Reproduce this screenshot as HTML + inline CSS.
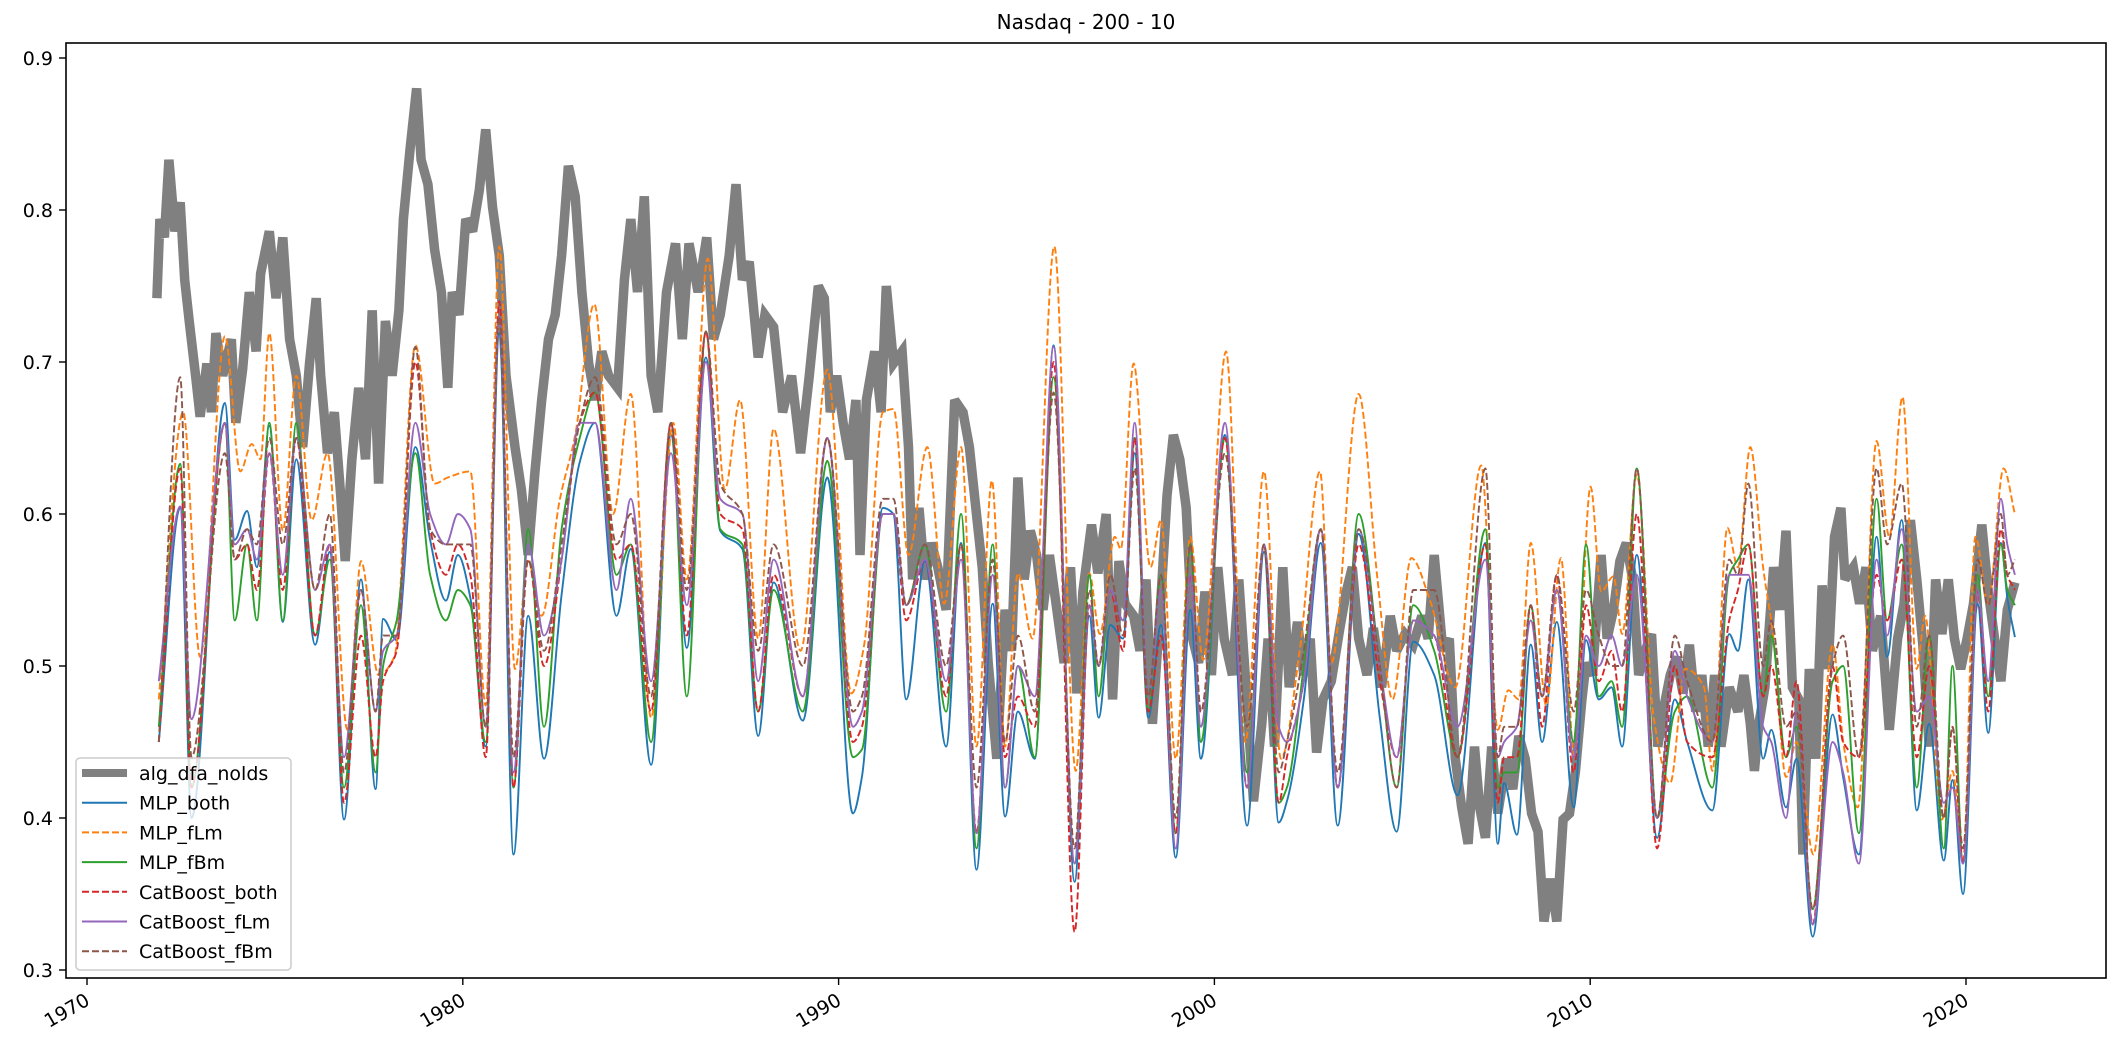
<!DOCTYPE html>
<html><head><meta charset="utf-8"><title>Nasdaq - 200 - 10</title>
<style>html,body{margin:0;padding:0;background:#fff}svg{display:block}text{font-family:"DejaVu Sans","Liberation Sans",sans-serif;fill:#000}</style>
</head><body>
<svg id="chart" width="2126" height="1046" viewBox="0 0 2126 1046" xmlns="http://www.w3.org/2000/svg">
<rect x="0" y="0" width="2126" height="1046" fill="#fff"/>
<text x="1086" y="29" font-size="20" text-anchor="middle">Nasdaq - 200 - 10</text>
<defs><clipPath id="clip"><rect x="66" y="43" width="2040" height="935"/></clipPath></defs>
<g id="series" clip-path="url(#clip)"></g>
<rect x="66" y="43" width="2040" height="935" fill="none" stroke="#000" stroke-width="1.6"/>
<g id="yaxis"></g>
<g id="xaxis"></g>
<g id="legend"></g>
</svg>
<script>
const xTickYears=[1970,1980,1990,2000,2010,2020];
const yTicks=[0.3,0.4,0.5,0.6,0.7,0.8,0.9];
const yTickLabels=["0.3","0.4","0.5","0.6","0.7","0.8","0.9"];
const seriesNames=["alg_dfa_nolds","MLP_both","MLP_fLm","MLP_fBm","CatBoost_both","CatBoost_fLm","CatBoost_fBm"];

const dfaYears=[1971.86,1971.94,1972.06,1972.18,1972.34,1972.48,1972.6,1972.72,1972.89,1973.01,1973.19,1973.31,1973.43,1973.61,1973.84,1973.96,1974.14,1974.32,1974.5,1974.62,1974.85,1975.03,1975.21,1975.39,1975.57,1975.74,1975.92,1976.1,1976.22,1976.4,1976.58,1976.75,1976.87,1977.05,1977.23,1977.41,1977.59,1977.76,1977.94,1978.12,1978.3,1978.42,1978.6,1978.77,1978.89,1979.07,1979.25,1979.43,1979.6,1979.72,1979.9,1980.08,1980.26,1980.44,1980.61,1980.79,1980.97,1981.15,1981.39,1981.56,1981.74,1981.92,1982.1,1982.28,1982.46,1982.63,1982.81,1982.99,1983.17,1983.35,1983.52,1983.7,1983.88,1984.12,1984.3,1984.47,1984.65,1984.83,1985.01,1985.19,1985.42,1985.66,1985.84,1986.02,1986.26,1986.49,1986.67,1986.85,1987.09,1987.27,1987.44,1987.62,1987.86,1988.04,1988.27,1988.51,1988.75,1988.99,1989.22,1989.46,1989.62,1989.78,1989.95,1990.12,1990.29,1990.46,1990.57,1990.74,1990.96,1991.13,1991.27,1991.46,1991.69,1991.86,1991.97,1992.14,1992.3,1992.47,1992.64,1992.86,1993.09,1993.31,1993.48,1993.65,1993.82,1993.98,1994.21,1994.43,1994.6,1994.77,1994.94,1995.1,1995.27,1995.44,1995.61,1995.83,1996.0,1996.17,1996.34,1996.5,1996.73,1996.9,1997.12,1997.29,1997.46,1997.62,1997.85,1998.02,1998.18,1998.35,1998.58,1998.74,1998.91,1999.08,1999.25,1999.42,1999.58,1999.75,1999.92,2000.09,2000.26,2000.48,2000.65,2000.82,2001.04,2001.26,2001.43,2001.6,2001.82,2001.99,2002.21,2002.38,2002.55,2002.72,2002.89,2003.11,2003.34,2003.51,2003.67,2003.84,2004.06,2004.23,2004.45,2004.68,2004.85,2005.07,2005.29,2005.52,2005.69,2005.85,2006.08,2006.25,2006.41,2006.58,2006.75,2006.92,2007.06,2007.21,2007.38,2007.54,2007.77,2007.94,2008.1,2008.27,2008.44,2008.61,2008.77,2008.94,2009.11,2009.28,2009.45,2009.61,2009.78,2009.89,2010.06,2010.29,2010.45,2010.62,2010.79,2010.96,2011.13,2011.29,2011.46,2011.63,2011.8,2011.97,2012.13,2012.3,2012.47,2012.64,2012.81,2012.97,2013.14,2013.31,2013.48,2013.7,2013.93,2014.09,2014.26,2014.37,2014.49,2014.65,2014.88,2015.05,2015.21,2015.38,2015.55,2015.66,2015.83,2016.0,2016.17,2016.33,2016.5,2016.67,2016.78,2017.0,2017.17,2017.34,2017.51,2017.73,2017.96,2018.18,2018.35,2018.52,2018.69,2018.85,2019.02,2019.19,2019.36,2019.53,2019.69,2019.86,2020.03,2020.2,2020.42,2020.59,2020.76,2020.93,2021.1,2021.3];
const dfaValues=[0.742,0.794,0.782,0.833,0.786,0.805,0.754,0.727,0.691,0.664,0.699,0.667,0.719,0.691,0.715,0.660,0.695,0.746,0.707,0.758,0.786,0.742,0.782,0.715,0.691,0.644,0.699,0.742,0.691,0.640,0.667,0.612,0.569,0.636,0.683,0.636,0.734,0.620,0.727,0.691,0.734,0.794,0.841,0.880,0.833,0.817,0.774,0.746,0.683,0.746,0.731,0.794,0.786,0.813,0.853,0.802,0.770,0.691,0.644,0.616,0.573,0.628,0.675,0.715,0.731,0.770,0.829,0.809,0.746,0.699,0.675,0.707,0.691,0.683,0.754,0.794,0.746,0.809,0.691,0.667,0.746,0.778,0.715,0.778,0.746,0.782,0.715,0.731,0.770,0.817,0.754,0.766,0.703,0.731,0.723,0.667,0.691,0.640,0.691,0.750,0.742,0.667,0.691,0.660,0.636,0.675,0.573,0.675,0.707,0.667,0.750,0.699,0.707,0.644,0.557,0.604,0.557,0.581,0.565,0.537,0.675,0.667,0.644,0.604,0.565,0.502,0.439,0.537,0.510,0.624,0.557,0.589,0.573,0.537,0.573,0.533,0.502,0.565,0.482,0.549,0.593,0.561,0.600,0.478,0.569,0.541,0.533,0.510,0.557,0.462,0.545,0.612,0.652,0.636,0.604,0.518,0.502,0.549,0.494,0.565,0.518,0.494,0.557,0.494,0.411,0.462,0.518,0.447,0.565,0.486,0.529,0.494,0.518,0.443,0.478,0.490,0.525,0.549,0.565,0.518,0.494,0.525,0.486,0.533,0.510,0.521,0.514,0.533,0.518,0.573,0.510,0.518,0.439,0.407,0.383,0.447,0.407,0.387,0.447,0.403,0.439,0.419,0.454,0.439,0.403,0.391,0.332,0.360,0.332,0.399,0.403,0.431,0.478,0.502,0.494,0.573,0.518,0.537,0.569,0.581,0.557,0.494,0.510,0.521,0.447,0.474,0.494,0.506,0.482,0.514,0.470,0.494,0.447,0.494,0.447,0.486,0.470,0.494,0.462,0.431,0.462,0.486,0.565,0.537,0.589,0.486,0.478,0.376,0.498,0.439,0.553,0.498,0.585,0.604,0.557,0.565,0.541,0.565,0.510,0.533,0.458,0.518,0.541,0.596,0.557,0.514,0.447,0.557,0.521,0.557,0.518,0.498,0.518,0.541,0.593,0.549,0.518,0.490,0.537,0.555];

const modelYears=[1971.91,1972.48,1972.78,1973.67,1973.93,1974.26,1974.52,1974.85,1975.21,1975.57,1976.07,1976.46,1976.84,1977.29,1977.68,1977.88,1978.24,1978.74,1979.13,1979.55,1979.87,1980.2,1980.61,1980.97,1981.35,1981.74,1982.16,1982.63,1983.11,1983.52,1984.09,1984.47,1985.01,1985.54,1985.96,1986.47,1986.85,1987.44,1987.86,1988.27,1989.05,1989.7,1990.38,1990.62,1991.18,1991.46,1991.8,1992.3,1992.86,1993.26,1993.67,1994.1,1994.43,1994.77,1995.22,1995.72,1996.28,1996.67,1996.92,1997.23,1997.57,1997.88,1998.24,1998.58,1998.97,1999.36,1999.64,2000.28,2000.87,2001.32,2001.71,2001.93,2002.38,2002.83,2003.28,2003.84,2004.4,2004.85,2005.29,2005.85,2006.47,2007.21,2007.54,2007.71,2008.05,2008.42,2008.72,2009.11,2009.56,2009.89,2010.23,2010.57,2010.85,2011.24,2011.78,2012.25,2012.58,2013.25,2013.7,2013.93,2014.21,2014.6,2014.82,2015.21,2015.49,2015.92,2016.45,2016.73,2017.15,2017.62,2017.9,2018.29,2018.69,2019.02,2019.41,2019.64,2019.92,2020.31,2020.59,2020.93,2021.1,2021.3];
const mlpBoth=[0.45,0.604,0.40,0.673,0.583,0.602,0.565,0.658,0.529,0.636,0.514,0.575,0.399,0.557,0.419,0.531,0.517,0.644,0.583,0.543,0.573,0.545,0.447,0.719,0.376,0.533,0.439,0.547,0.634,0.660,0.533,0.577,0.435,0.652,0.512,0.703,0.589,0.577,0.454,0.555,0.464,0.624,0.403,0.427,0.604,0.600,0.478,0.569,0.447,0.581,0.366,0.541,0.401,0.470,0.439,0.711,0.358,0.533,0.466,0.527,0.518,0.640,0.466,0.527,0.374,0.537,0.439,0.652,0.395,0.575,0.397,0.411,0.478,0.581,0.395,0.587,0.466,0.391,0.516,0.494,0.415,0.581,0.383,0.423,0.389,0.514,0.450,0.529,0.407,0.517,0.478,0.486,0.447,0.573,0.387,0.478,0.450,0.405,0.521,0.510,0.557,0.439,0.458,0.407,0.439,0.322,0.468,0.427,0.376,0.585,0.506,0.596,0.405,0.462,0.372,0.425,0.350,0.541,0.456,0.581,0.545,0.519];
const mlpFbm=[0.46,0.633,0.42,0.66,0.53,0.58,0.53,0.66,0.53,0.66,0.52,0.57,0.42,0.54,0.43,0.50,0.53,0.64,0.56,0.53,0.55,0.54,0.45,0.73,0.42,0.59,0.46,0.59,0.65,0.68,0.56,0.58,0.45,0.66,0.48,0.72,0.59,0.58,0.47,0.55,0.47,0.635,0.44,0.445,0.60,0.60,0.54,0.58,0.47,0.60,0.38,0.58,0.42,0.50,0.44,0.69,0.37,0.56,0.48,0.55,0.53,0.65,0.47,0.56,0.39,0.58,0.45,0.65,0.43,0.58,0.41,0.42,0.50,0.59,0.42,0.60,0.50,0.42,0.54,0.51,0.44,0.59,0.42,0.43,0.43,0.54,0.48,0.55,0.45,0.58,0.48,0.49,0.46,0.63,0.40,0.47,0.48,0.42,0.56,0.57,0.58,0.48,0.52,0.44,0.46,0.34,0.49,0.50,0.39,0.61,0.53,0.58,0.42,0.52,0.38,0.50,0.37,0.56,0.48,0.58,0.55,0.54];
const catBoth=[0.45,0.63,0.42,0.66,0.57,0.58,0.55,0.64,0.55,0.65,0.52,0.58,0.41,0.52,0.44,0.49,0.51,0.70,0.59,0.56,0.58,0.56,0.44,0.74,0.42,0.57,0.50,0.57,0.66,0.68,0.57,0.58,0.47,0.66,0.52,0.72,0.60,0.59,0.47,0.56,0.48,0.65,0.45,0.46,0.60,0.60,0.53,0.57,0.48,0.58,0.39,0.57,0.44,0.48,0.46,0.70,0.325,0.54,0.50,0.55,0.51,0.65,0.47,0.52,0.39,0.56,0.47,0.65,0.42,0.58,0.41,0.44,0.49,0.59,0.42,0.58,0.49,0.44,0.53,0.52,0.44,0.58,0.41,0.44,0.44,0.54,0.46,0.56,0.43,0.54,0.49,0.51,0.47,0.60,0.38,0.50,0.45,0.44,0.53,0.55,0.58,0.48,0.50,0.44,0.49,0.33,0.50,0.45,0.44,0.56,0.53,0.57,0.44,0.50,0.40,0.46,0.37,0.55,0.47,0.59,0.56,0.55];
const catFlm=[0.49,0.605,0.465,0.66,0.58,0.59,0.57,0.64,0.56,0.65,0.55,0.58,0.44,0.55,0.47,0.51,0.52,0.66,0.60,0.58,0.60,0.59,0.46,0.73,0.43,0.58,0.52,0.57,0.66,0.66,0.55,0.61,0.49,0.64,0.54,0.70,0.61,0.60,0.49,0.57,0.48,0.65,0.46,0.47,0.60,0.60,0.54,0.57,0.49,0.57,0.39,0.56,0.42,0.50,0.48,0.71,0.37,0.54,0.50,0.55,0.53,0.66,0.48,0.55,0.38,0.56,0.46,0.66,0.42,0.58,0.46,0.45,0.49,0.59,0.42,0.59,0.50,0.44,0.53,0.52,0.46,0.57,0.44,0.45,0.46,0.53,0.48,0.55,0.44,0.52,0.50,0.52,0.50,0.56,0.40,0.51,0.48,0.45,0.56,0.56,0.56,0.46,0.45,0.40,0.47,0.33,0.45,0.43,0.37,0.57,0.52,0.59,0.47,0.48,0.41,0.42,0.37,0.55,0.49,0.61,0.58,0.56];
const catFbm=[0.45,0.69,0.44,0.64,0.57,0.59,0.58,0.65,0.58,0.65,0.55,0.60,0.43,0.55,0.47,0.52,0.52,0.71,0.59,0.58,0.58,0.58,0.46,0.73,0.44,0.57,0.51,0.58,0.66,0.69,0.58,0.60,0.48,0.66,0.55,0.72,0.62,0.60,0.51,0.58,0.50,0.65,0.47,0.48,0.61,0.61,0.54,0.58,0.50,0.58,0.42,0.57,0.45,0.52,0.47,0.68,0.38,0.55,0.50,0.56,0.52,0.63,0.48,0.56,0.40,0.58,0.47,0.64,0.46,0.58,0.43,0.45,0.51,0.59,0.43,0.59,0.50,0.42,0.55,0.55,0.44,0.63,0.44,0.46,0.46,0.54,0.48,0.56,0.47,0.55,0.52,0.50,0.50,0.63,0.40,0.52,0.49,0.45,0.57,0.56,0.62,0.50,0.53,0.46,0.47,0.34,0.50,0.52,0.44,0.63,0.58,0.62,0.46,0.52,0.40,0.46,0.38,0.57,0.54,0.60,0.56,0.57];

const flmYears=[1971.91,1972.56,1973.01,1973.67,1974.08,1974.38,1974.62,1974.85,1975.21,1975.57,1975.98,1976.4,1976.93,1977.29,1977.76,1978.18,1978.74,1979.25,1979.6,1980.2,1980.61,1980.97,1981.39,1981.74,1982.1,1982.57,1982.99,1983.5,1984.0,1984.47,1985.01,1985.6,1985.96,1986.52,1986.97,1987.38,1987.86,1988.27,1988.99,1989.7,1990.34,1990.68,1991.18,1991.46,1991.86,1992.36,1992.81,1993.26,1993.67,1994.08,1994.43,1994.77,1995.16,1995.74,1996.31,1996.67,1996.95,1997.35,1997.51,1997.85,1998.3,1998.58,1998.97,1999.36,1999.7,2000.31,2000.82,2001.32,2001.77,2002.27,2002.81,2003.11,2003.84,2004.34,2004.74,2005.24,2005.74,2006.41,2007.1,2007.54,2007.82,2008.1,2008.42,2008.83,2009.22,2009.58,2010.01,2010.29,2010.62,2010.85,2011.24,2011.69,2012.13,2012.53,2013.03,2013.25,2013.65,2013.93,2014.26,2014.6,2014.88,2015.21,2015.49,2015.94,2016.45,2016.75,2017.12,2017.62,2017.96,2018.31,2018.69,2018.91,2019.36,2019.64,2019.92,2020.25,2020.59,2021.0,2021.3];
const mlpFlm=[0.478,0.667,0.506,0.717,0.628,0.646,0.636,0.719,0.589,0.691,0.596,0.640,0.458,0.569,0.494,0.506,0.711,0.620,0.624,0.628,0.474,0.776,0.498,0.569,0.533,0.608,0.652,0.738,0.600,0.679,0.466,0.660,0.557,0.768,0.616,0.675,0.518,0.656,0.510,0.695,0.482,0.514,0.667,0.669,0.573,0.644,0.541,0.644,0.447,0.622,0.447,0.561,0.518,0.776,0.431,0.561,0.521,0.585,0.577,0.699,0.565,0.596,0.439,0.585,0.504,0.707,0.450,0.628,0.439,0.510,0.628,0.502,0.679,0.557,0.478,0.571,0.543,0.486,0.632,0.458,0.484,0.478,0.581,0.474,0.571,0.439,0.618,0.549,0.559,0.521,0.626,0.466,0.423,0.498,0.486,0.431,0.591,0.565,0.644,0.565,0.518,0.427,0.450,0.376,0.514,0.447,0.407,0.648,0.585,0.677,0.498,0.533,0.399,0.431,0.372,0.585,0.541,0.630,0.600];

const NS='http://www.w3.org/2000/svg';
function xScale(yr){return 87+(yr-1970)*37.58;}
function yScale(v){return 970-(v-0.3)*1520;}
function mk(tag,attrs){const e=document.createElementNS(NS,tag);for(const k in attrs)e.setAttribute(k,attrs[k]);return e;}

function linePath(xs,ys){let d='';for(let i=0;i<xs.length;i++){d+=(i?'L':'M')+xScale(xs[i]).toFixed(1)+','+yScale(ys[i]).toFixed(1);}return d;}
function smoothPath(xv,yv){
  const n=Math.min(xv.length,yv.length);const X=[],Y=[];
  for(let i=0;i<n;i++){X.push(xScale(xv[i]));Y.push(yScale(yv[i]));}
  const dx=[],m=[];for(let i=0;i<n-1;i++){dx.push(X[i+1]-X[i]);m.push((Y[i+1]-Y[i])/dx[i]);}
  const t=new Array(n);t[0]=m[0];t[n-1]=m[n-2];
  for(let i=1;i<n-1;i++){if(m[i-1]*m[i]<=0)t[i]=0;else t[i]=3*(dx[i-1]+dx[i])/((2*dx[i]+dx[i-1])/m[i-1]+(dx[i]+2*dx[i-1])/m[i]);}
  let d='M'+X[0].toFixed(1)+','+Y[0].toFixed(1);
  for(let i=0;i<n-1;i++){const h=dx[i]/3;d+='C'+(X[i]+h).toFixed(1)+','+(Y[i]+t[i]*h).toFixed(1)+' '+(X[i+1]-h).toFixed(1)+','+(Y[i+1]-t[i+1]*h).toFixed(1)+' '+X[i+1].toFixed(1)+','+Y[i+1].toFixed(1);}
  return d;
}

const g=document.getElementById('series');
const dfa=mk('path',{d:linePath(dfaYears,dfaValues),fill:'none',stroke:'#808080','stroke-width':9.5,'stroke-linejoin':'miter','stroke-miterlimit':3});


g.appendChild(dfa);

const defs=[
 ['series-mlp-both',modelYears,mlpBoth,'#1f77b4',null],
 ['series-mlp-flm',flmYears,mlpFlm,'#ff7f0e','7,3'],
 ['series-mlp-fbm',modelYears,mlpFbm,'#2ca02c',null],
 ['series-catboost-both',modelYears,catBoth,'#d62728','7,3'],
 ['series-catboost-flm',modelYears,catFlm,'#9467bd',null],
 ['series-catboost-fbm',modelYears,catFbm,'#8c564b','7,3']
];
defs.forEach(s=>{
  const p=mk('path',{d:smoothPath(s[1],s[2]),fill:'none',stroke:s[3],'stroke-width':1.9});
  if(s[4])p.setAttribute('stroke-dasharray',s[4]);
  
  
  g.appendChild(p);
});

const ya=document.getElementById('yaxis');
yTicks.forEach((v,i)=>{
  const y=yScale(v);
  const tk=mk('line',{x1:59,x2:66,y1:y,y2:y,stroke:'#000','stroke-width':1.4});
  
  
  ya.appendChild(tk);
  const tx=mk('text',{x:53,y:y+7,'font-size':19,'text-anchor':'end'});
  tx.textContent=yTickLabels[i];
  
  
  ya.appendChild(tx);
});
const xa=document.getElementById('xaxis');
xTickYears.forEach(yr=>{
  const x=xScale(yr);
  const tk=mk('line',{x1:x,x2:x,y1:978,y2:985,stroke:'#000','stroke-width':1.4});
  
  
  xa.appendChild(tk);
  const tx=mk('text',{x:x+4,y:1004,'font-size':19,'text-anchor':'end',transform:'rotate(-30 '+(x+4)+' 1004)'});
  tx.textContent=String(yr);
  
  
  xa.appendChild(tx);
});

const lg=document.getElementById('legend');
const box=mk('rect',{x:76,y:758,width:215,height:212,rx:4,fill:'#fff','fill-opacity':0.8,stroke:'#cccccc','stroke-width':1.5});


lg.appendChild(box);
const lgStyle=[['#808080',null,8],['#1f77b4',null,2],['#ff7f0e','7,3',2],['#2ca02c',null,2],['#d62728','7,3',2],['#9467bd',null,2],['#8c564b','7,3',2]];
seriesNames.forEach((nm,i)=>{
  const y=773+i*29.7;
  const ln=mk('line',{x1:82,x2:127,y1:y,y2:y,stroke:lgStyle[i][0],'stroke-width':lgStyle[i][2]});
  if(lgStyle[i][1])ln.setAttribute('stroke-dasharray',lgStyle[i][1]);
  
  
  lg.appendChild(ln);
  const tx=mk('text',{x:139,y:y+7,'font-size':19});
  tx.textContent=nm;
  
  
  lg.appendChild(tx);
});
</script>
</body></html>
